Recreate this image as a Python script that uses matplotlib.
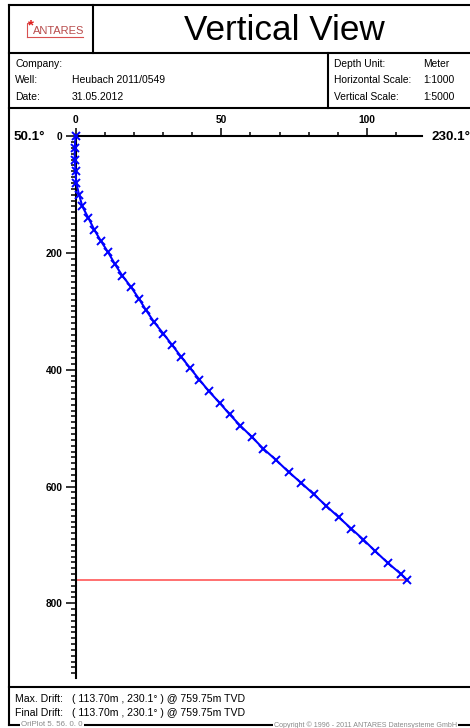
import matplotlib
matplotlib.use("Agg")
import matplotlib.pyplot as plt
from matplotlib.ticker import MultipleLocator, FixedLocator

plt.rcParams['font.family'] = ['Liberation Sans', 'DejaVu Sans']

# ---- data ----
horiz = [0, -0.3, -0.3, 0, 0.2, 1.2, 2.3, 4.4, 6.4, 8.7, 11.2, 13.5, 16.0, 19.0,
         21.7, 24.2, 26.9, 30.1, 33.2, 36.2, 39.3, 42.5, 45.8, 49.5, 52.9, 56.6,
         60.5, 64.4, 68.9, 73.1, 77.5, 81.8, 86.0, 90.3, 94.6, 98.8, 102.9, 107.1,
         111.7, 113.7]
tvd = [0, 20, 40, 60, 80, 100, 120, 140, 160, 179.5, 199, 219, 238.5, 258, 278,
       298, 318, 338, 358, 377.5, 397, 417, 437, 457, 476.5, 496, 515, 535, 555,
       575, 594, 613.5, 633, 652.5, 672, 691, 711, 730.5, 750, 759.75]
max_drift = 113.70
max_drift_tvd = 759.75
x_major = [0, 50, 100]
y_major = [0, 200, 400, 600, 800]
left_dir = "50.1°"
right_dir = "230.1°"
title = "Vertical View"
info_left = [("Company:", ""), ("Well:", "Heubach 2011/0549"), ("Date:", "31.05.2012")]
info_right = [("Depth Unit:", "Meter"), ("Horizontal Scale:", "1:1000"),
              ("Vertical Scale:", "1:5000")]
footer = [("Max. Drift:", "( 113.70m , 230.1° ) @ 759.75m TVD"),
          ("Final Drift:", "( 113.70m , 230.1° ) @ 759.75m TVD")]

W, H = 470, 728
fig = plt.figure(figsize=(W / 100, H / 100), dpi=100)

# ---- frame overlay in pixel coordinates ----
fr = fig.add_axes([0, 0, 1, 1])
fr.set_xlim(0, W)
fr.set_ylim(H, 0)
fr.axis('off')
lw = 1.5
k = 'black'
fr.plot([9, 9], [5, 724.5], color=k, lw=lw, solid_capstyle='projecting')
fr.plot([9, 480], [5, 5], color=k, lw=lw)
for yy in [53, 108, 687]:
    fr.plot([9, 480], [yy, yy], color=k, lw=lw)
fr.plot([9, 480], [724.5, 724.5], color=k, lw=lw)
fr.plot([93, 93], [5, 53], color=k, lw=lw)
fr.plot([328, 328], [53, 108], color=k, lw=lw)

# logo
red = '#d85050'
fr.plot([26.7, 26.7, 29.5], [36.7, 22.8, 22.8], color=red, lw=0.8)
fr.plot([26.7, 82.7], [36.7, 36.7], color=red, lw=0.8)
fr.text(30.5, 25.5, "*", color='#e02020', fontsize=11, ha='center', va='center',
        fontweight='bold')
fr.text(33, 31, "ANTARES", color='#b84c4c', fontsize=8.0, ha='left', va='center')

# title
fr.text(284, 30, title, fontsize=25.3, ha='center', va='center')

# info
for i, (lab, val) in enumerate(info_left):
    y = 64 + i * 16.3
    fr.text(15, y, lab, fontsize=7.5, ha='left', va='center')
    fr.text(72, y, val, fontsize=7.5, ha='left', va='center')
for i, (lab, val) in enumerate(info_right):
    y = 64 + i * 16.3
    fr.text(334, y, lab, fontsize=7.4, ha='left', va='center')
    fr.text(423, y, val, fontsize=7.4, ha='left', va='center')

# footer
for i, (lab, val) in enumerate(footer):
    y = 698.7 + i * 14.6
    fr.text(15, y, lab, fontsize=7.6, ha='left', va='center')
    fr.text(71.7, y, val, fontsize=7.6, ha='left', va='center')
box = dict(facecolor='white', edgecolor='none', pad=1.0)
fr.text(21, 724.7, "OriPlot 5. 56. 0. 0", fontsize=5.7, color='#8a8a8a',
        ha='left', va='center', bbox=box)
fr.text(274, 724.7, "Copyright © 1996 - 2011 ANTARES Datensysteme GmbH",
        fontsize=5.15, color='#8a8a8a', ha='left', va='center', bbox=box)

# direction labels
fr.text(14, 137, left_dir, fontsize=9.6, fontweight='bold', ha='left', va='center')
fr.text(431, 137, right_dir, fontsize=9.6, fontweight='bold', ha='left', va='center')

# ---- plot axes ----
x0p, x1p = 75.6, 421.7
y0p, y1p = 136.3, 678.0
ax = fig.add_axes([x0p / W, 1 - y1p / H, (x1p - x0p) / W, (y1p - y0p) / H])
ax.patch.set_alpha(0)
ax.set_xlim(0, 118.8)
ax.set_ylim(928, 0)
for s in ['bottom', 'right']:
    ax.spines[s].set_visible(False)
for s in ['top', 'left']:
    ax.spines[s].set_linewidth(1.5)

ax.xaxis.set_ticks_position('top')
ax.xaxis.set_label_position('top')
ax.xaxis.set_major_locator(FixedLocator(x_major))
ax.xaxis.set_minor_locator(MultipleLocator(10))
ax.yaxis.set_major_locator(FixedLocator(y_major))
ax.yaxis.set_minor_locator(MultipleLocator(10))
ax.tick_params(axis='x', which='major', length=5.8, width=1.1, pad=2.6,
               labelsize=7.4, direction='out')
ax.tick_params(axis='x', which='minor', length=3.2, width=1.1, direction='out')
ax.tick_params(axis='y', which='major', length=7.2, width=1.1, pad=2.4,
               labelsize=7.3, direction='out')
ax.tick_params(axis='y', which='minor', length=3.6, width=1.1, direction='out')
for lab in ax.get_xticklabels() + ax.get_yticklabels():
    lab.set_fontweight('bold')

ax.plot([0, max_drift], [max_drift_tvd, max_drift_tvd], color='#ff6464', lw=1.3,
        zorder=2, clip_on=False)
ax.plot(horiz, tvd, color='#0000ff', lw=1.5, marker='x', markersize=5.5,
        markeredgewidth=1.4, zorder=3, clip_on=False)

fig.savefig("out.png", dpi=100)
